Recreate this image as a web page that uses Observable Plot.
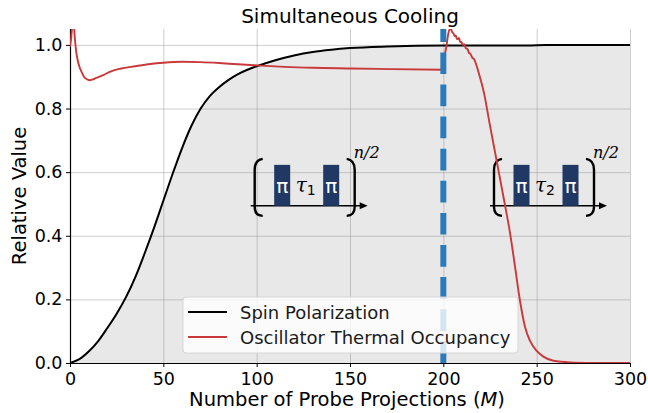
<!DOCTYPE html>
<html>
<head>
<meta charset="utf-8">
<script src="https://cdn.jsdelivr.net/npm/d3@7"></script>
<script src="https://cdn.jsdelivr.net/npm/@observablehq/plot@0.6"></script>
<style>
  html, body { margin: 0; padding: 0; background: white; }
  #chart svg { display: block; }
</style>
</head>
<body>
<div id="chart"></div>
<script>
// ---- data ----
const xTicks = [0, 50, 100, 150, 200, 250, 300];
const yTicks = [0.0, 0.2, 0.4, 0.6, 0.8, 1.0];

const spinX = [0, 5, 10, 15, 20, 25, 30, 35, 40, 45, 50, 55, 60, 65, 70, 75, 80, 85, 90, 95, 100, 110, 120, 130, 140, 150, 170, 200, 225, 245, 255, 300];
const spinY = [0, 0.012, 0.036, 0.068, 0.11, 0.155, 0.207, 0.27, 0.345, 0.425, 0.51, 0.595, 0.675, 0.745, 0.8, 0.84, 0.868, 0.89, 0.908, 0.922, 0.933, 0.952, 0.967, 0.978, 0.985, 0.99, 0.995, 0.998, 0.998, 0.998, 1.0, 1.0];

const oscAX = [0, 0.6, 1.3, 2, 2.6, 3.3, 4, 5, 6.2, 7.5, 9, 10.5, 12, 14, 17.7, 22, 26.8, 35, 43, 50, 60, 70, 80, 90, 102, 115, 130, 150, 171, 200];
const oscAY = [0.995, 1.02, 1.06, 1.06, 1.02, 0.98, 0.955, 0.932, 0.915, 0.9, 0.892, 0.889, 0.891, 0.896, 0.905, 0.917, 0.925, 0.933, 0.94, 0.944, 0.947, 0.946, 0.943, 0.939, 0.935, 0.931, 0.928, 0.926, 0.924, 0.922];

const oscBX = [200.5, 201.5, 202.5, 203.3, 204, 204.8, 205.5, 206, 206.6, 207.2, 207.8, 208.4, 209, 209.8, 210.5, 211.2, 212, 213, 213.7, 214.5, 215.5, 216.5, 217.5, 219.3, 222, 224.6, 227.3, 230, 232.7, 235.7, 238.4, 241, 243.7, 246.4, 250, 253.6, 259, 268, 280, 300];
const oscBY = [0.965, 0.99, 1.03, 1.048, 1.05, 1.04, 1.035, 1.028, 1.03, 1.02, 1.018, 1.022, 1.01, 1.008, 1.0, 1.002, 0.99, 0.987, 0.975, 0.972, 0.96, 0.955, 0.94, 0.905, 0.843, 0.759, 0.675, 0.591, 0.507, 0.41, 0.303, 0.198, 0.115, 0.07, 0.038, 0.02, 0.007, 0.002, 0.0005, 0];

const switchX = [200];
const seriesNames = ["Spin Polarization", "Oscillator Thermal Occupancy"];
const seriesColors = ["#000000", "#c9383a"];
const titleText = "Simultaneous Cooling";
const yLabel = "Relative Value";
const xLabelMain = "Number of Probe Projections (";
const xLabelVar = "M";
const xLabelEnd = ")";
const insetTaus = ["1", "2"];

// ---- tables ----
const spin = spinX.map((x, i) => ({x, y: spinY[i]}));
const oscA = oscAX.map((x, i) => ({x, y: oscAY[i]}));
const oscB = oscBX.map((x, i) => ({x, y: oscBY[i]}));

const FONT = "DejaVu Sans, sans-serif";

const plot = Plot.plot({
  width: 648,
  height: 413,
  marginLeft: 70,
  marginRight: 18,
  marginTop: 29,
  marginBottom: 50,
  style: {fontFamily: FONT, background: "white", color: "black"},
  x: {domain: [0, 300], label: null},
  y: {domain: [0, 1.05], label: null},
  marks: [
    Plot.areaY(spin, {x: "x", y: "y", fill: "#e8e8e8", curve: "monotone-x"}),
    Plot.gridX(xTicks, {stroke: "#909090", strokeOpacity: 0.45, strokeWidth: 1}),
    Plot.gridY(yTicks, {stroke: "#909090", strokeOpacity: 0.45, strokeWidth: 1}),
    Plot.axisX(xTicks, {tickSize: 4, tickPadding: 5, fontSize: 17.5, tickFormat: d => String(d), label: null}),
    Plot.axisY(yTicks, {tickSize: 4, tickPadding: 4, fontSize: 17.5, tickFormat: d3.format(".1f"), label: null}),
    Plot.ruleX([0], {stroke: "black", strokeWidth: 1.2}),
    Plot.ruleY([0], {stroke: "black", strokeWidth: 1.2})
  ]
});

document.getElementById("chart").appendChild(plot);

const sx = plot.scale("x"), sy = plot.scale("y");
const X = v => sx.apply(v), Y = v => sy.apply(v);
const svg = d3.select(plot);
const fLeft = X(0), fRight = X(300), fTop = Y(1.05), fBottom = Y(0);

// ---- inset pulse diagrams (annotation drawn in pixel offsets from an anchor) ----
const insetAnchors = [[96.8, 0.494], [225, 0.494]];
insetAnchors.forEach(([dx, dy], k) => {
  const ax = X(dx), ay = Y(dy);
  const g = svg.append("g").attr("text-anchor", "start");
  g.append("line").attr("x1", ax).attr("x2", ax + 110).attr("y1", ay).attr("y2", ay)
    .attr("stroke", "black").attr("stroke-width", 1.5);
  g.append("path").attr("d", `M${ax + 117},${ay} L${ax + 109},${ay - 3.5} L${ax + 109},${ay + 3.5} Z`).attr("fill", "black");
  g.append("path").attr("d", `M${ax + 12},${ay - 47} Q${ax + 4},${ay - 46} ${ax + 4},${ay - 36} L${ax + 4},${ay + 1} Q${ax + 4},${ay + 10} ${ax + 12},${ay + 10}`)
    .attr("fill", "none").attr("stroke", "black").attr("stroke-width", 2.4);
  g.append("path").attr("d", `M${ax + 96},${ay - 47} Q${ax + 104},${ay - 46} ${ax + 104},${ay - 36} L${ax + 104},${ay + 1} Q${ax + 104},${ay + 10} ${ax + 96},${ay + 10}`)
    .attr("fill", "none").attr("stroke", "black").attr("stroke-width", 2.4);
  [23.5, 72.5].forEach(o => {
    g.append("rect").attr("x", ax + o).attr("y", ay - 41).attr("width", 16).attr("height", 41).attr("fill", "#1f3864");
    g.append("text").attr("x", ax + o + 8).attr("y", ay - 13).attr("text-anchor", "middle")
      .attr("fill", "white").attr("font-family", FONT).attr("font-size", 20).text("π");
  });
  const t = g.append("text").attr("x", ax + 45).attr("y", ay - 14).attr("font-family", "DejaVu Serif, serif").attr("font-size", 20);
  t.append("tspan").attr("font-style", "italic").text("τ");
  t.append("tspan").attr("font-size", 14).attr("dy", 3).attr("font-family", FONT).text(insetTaus[k]);
  g.append("text").attr("x", ax + 103).attr("y", ay - 48).attr("font-family", "DejaVu Serif, serif")
    .attr("font-style", "italic").attr("font-size", 16).text("n/2");
});

// ---- curves (drawn on top of the insets) ----
const lineSmooth = d3.line().x(d => X(d.x)).y(d => Y(d.y)).curve(d3.curveMonotoneX);
svg.append("clipPath").attr("id", "frameclip").append("rect")
  .attr("x", fLeft).attr("y", fTop).attr("width", fRight - fLeft).attr("height", fBottom - fTop);
const curves = svg.append("g").attr("clip-path", "url(#frameclip)");
curves.append("path").attr("d", lineSmooth(spin)).attr("fill", "none").attr("stroke", seriesColors[0]).attr("stroke-width", 2);
curves.append("path").attr("d", lineSmooth(oscA)).attr("fill", "none").attr("stroke", seriesColors[1]).attr("stroke-width", 1.9);
curves.append("path").attr("d", lineSmooth(oscB)).attr("fill", "none").attr("stroke", seriesColors[1]).attr("stroke-width", 1.9);

// ---- dashed switch line ----
switchX.forEach(v => {
  svg.append("line").attr("x1", X(v)).attr("x2", X(v)).attr("y1", fBottom).attr("y2", fTop)
    .attr("stroke", "#2b7bba").attr("stroke-width", 6).attr("stroke-dasharray", "21.7,10.4");
});

// ---- legend ----
const lg = svg.append("g").attr("text-anchor", "start");
lg.append("rect").attr("x", 183).attr("y", 297).attr("width", 335).attr("height", 56).attr("rx", 3)
  .attr("fill", "white").attr("fill-opacity", 0.8).attr("stroke", "#d6d6d6").attr("stroke-width", 1);
seriesNames.forEach((name, i) => {
  const yy = 312 + i * 25;
  lg.append("line").attr("x1", 188).attr("x2", 227).attr("y1", yy).attr("y2", yy)
    .attr("stroke", seriesColors[i]).attr("stroke-width", 2);
  lg.append("text").attr("x", 240).attr("y", yy + 6.5).attr("font-family", FONT).attr("font-size", 18)
    .attr("fill", "#1a1a1a").text(name);
});

// ---- title and axis labels ----
svg.append("text").attr("x", (fLeft + fRight) / 2).attr("y", 23).attr("text-anchor", "middle")
  .attr("font-family", FONT).attr("font-size", 20).attr("fill", "black").text(titleText);
const xl = svg.append("text").attr("x", (fLeft + fRight) / 2 - 3).attr("y", 406).attr("text-anchor", "middle")
  .attr("font-family", FONT).attr("font-size", 19.5).attr("fill", "black");
xl.append("tspan").text(xLabelMain);
xl.append("tspan").attr("font-style", "italic").text(xLabelVar);
xl.append("tspan").text(xLabelEnd);
svg.append("text").attr("transform", `translate(26,${(fTop + fBottom) / 2}) rotate(-90)`).attr("text-anchor", "middle")
  .attr("font-family", FONT).attr("font-size", 19.5).attr("fill", "black").text(yLabel);
</script>
</body>
</html>
